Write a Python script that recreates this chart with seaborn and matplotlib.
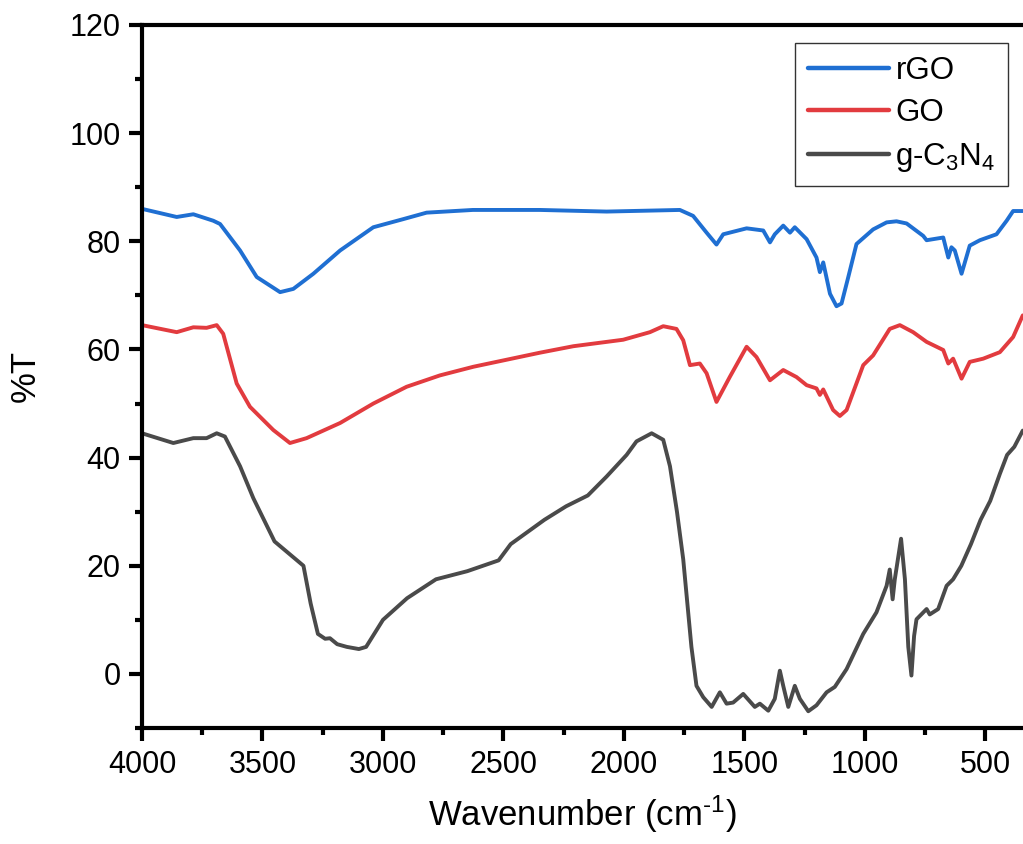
import numpy as np
import pandas as pd
import matplotlib
matplotlib.use("Agg")
import matplotlib.pyplot as plt
import seaborn as sns

# ---- data ----
wn_rgo = [4000, 3856, 3787, 3704, 3676, 3593, 3524, 3427, 3372, 3289,
          3178, 3040, 2916, 2819, 2627, 2349, 2072, 1768, 1713, 1657,
          1616, 1588, 1491, 1422, 1394, 1374, 1339, 1311, 1291, 1242,
          1201, 1187, 1173, 1145, 1118, 1097, 1069, 1035, 966, 910,
          869, 827, 758, 744, 675, 654, 641, 627, 599, 565,
          523, 454, 412, 385, 345]
t_rgo = [86.0, 84.5, 85.0, 83.8, 83.2, 78.3, 73.4, 70.6, 71.2, 74.0,
         78.3, 82.6, 84.1, 85.3, 85.8, 85.8, 85.5, 85.8, 84.7, 81.6,
         79.4, 81.3, 82.4, 82.0, 79.8, 81.3, 82.9, 81.6, 82.6, 80.4,
         77.0, 74.3, 76.1, 70.3, 68.0, 68.5, 73.4, 79.5, 82.2, 83.5,
         83.7, 83.3, 81.0, 80.2, 80.7, 77.0, 78.9, 78.3, 74.0, 79.2,
         80.2, 81.3, 83.8, 85.6, 85.6]

wn_go = [4000, 3856, 3787, 3732, 3690, 3663, 3607, 3552, 3455, 3386,
         3317, 3178, 3040, 2902, 2764, 2625, 2487, 2349, 2210, 2003,
         1892, 1837, 1782, 1754, 1726, 1685, 1657, 1616, 1561, 1491,
         1450, 1394, 1339, 1284, 1242, 1201, 1187, 1173, 1132, 1104,
         1076, 1007, 966, 897, 855, 800, 744, 675, 654, 634,
         599, 565, 509, 440, 385, 345]
t_go = [64.5, 63.2, 64.1, 64.0, 64.5, 62.9, 53.7, 49.4, 45.1, 42.7,
        43.6, 46.4, 50.0, 53.1, 55.2, 56.8, 58.1, 59.4, 60.6, 61.8,
        63.2, 64.3, 63.8, 61.7, 57.1, 57.4, 55.6, 50.3, 54.9, 60.5,
        58.6, 54.3, 56.2, 54.9, 53.4, 52.8, 51.6, 52.6, 48.8, 47.7,
        48.8, 57.1, 58.9, 63.8, 64.5, 63.2, 61.4, 59.9, 57.4, 58.3,
        54.6, 57.7, 58.3, 59.5, 62.3, 66.3]

wn_cn = [4000, 3870, 3787, 3732, 3690, 3656, 3593, 3538, 3450, 3370,
         3330, 3300, 3270, 3240, 3220, 3190, 3150, 3100, 3070, 3000,
         2900, 2780, 2650, 2520, 2470, 2330, 2240, 2150, 2072, 1989,
         1948, 1885, 1837, 1809, 1780, 1754, 1720, 1699, 1671, 1636,
         1602, 1574, 1547, 1505, 1457, 1436, 1401, 1374, 1353, 1339,
         1318, 1291, 1270, 1235, 1201, 1159, 1125, 1076, 1007, 952,
         910, 897, 885, 876, 850, 834, 820, 807, 796, 786,
         744, 731, 696, 661, 634, 600, 560, 520, 480, 440,
         410, 380, 345]
t_cn = [44.5, 42.7, 43.6, 43.6, 44.5, 43.9, 38.4, 32.5, 24.5, 21.5,
        20.0, 13.0, 7.4, 6.5, 6.6, 5.5, 5.0, 4.6, 5.0, 10.0,
        14.0, 17.5, 19.0, 21.0, 24.0, 28.5, 31.0, 33.0, 36.5, 40.5,
        43.0, 44.5, 43.3, 38.4, 30.0, 21.2, 5.0, -2.2, -4.3, -6.1,
        -3.4, -5.5, -5.3, -3.7, -6.1, -5.5, -6.8, -4.6, 0.6, -2.2,
        -6.1, -2.2, -4.6, -6.9, -5.8, -3.4, -2.4, 0.9, 7.4, 11.4,
        16.3, 19.3, 13.8, 17.5, 25.0, 17.5, 5.0, -0.3, 7.0, 10.1,
        12.0, 11.0, 12.0, 16.3, 17.5, 20.0, 24.0, 28.5, 32.0, 37.0,
        40.5, 42.0, 45.0]

labels = ["rGO", "GO", "g-C$_3$N$_4$"]
colors = ["#1F6FD2", "#E23B3F", "#4A4A4A"]
xticks = [4000, 3500, 3000, 2500, 2000, 1500, 1000, 500]
yticks = [0, 20, 40, 60, 80, 100, 120]

df = pd.concat([
    pd.DataFrame({"wn": wn_rgo, "T": t_rgo, "s": labels[0]}),
    pd.DataFrame({"wn": wn_go, "T": t_go, "s": labels[1]}),
    pd.DataFrame({"wn": wn_cn, "T": t_cn, "s": labels[2]}),
], ignore_index=True)

sns.set_style("ticks")
plt.rcParams["font.family"] = ["Liberation Sans", "DejaVu Sans"]
plt.rcParams["mathtext.default"] = "regular"
for k in ["text.color", "axes.labelcolor", "xtick.color", "ytick.color"]:
    plt.rcParams[k] = "black"

fig = plt.figure(figsize=(10.23, 8.44), dpi=100)
ax = fig.add_axes([142 / 1023, 116 / 844, 881 / 1023, 703 / 844])

sns.lineplot(data=df, x="wn", y="T", hue="s", hue_order=labels,
             palette=colors, linewidth=2.8, ax=ax, estimator=None, sort=True)

ax.set_xlim(4000, 344)
ax.set_ylim(-10, 120)
ax.set_xticks(xticks)
ax.set_yticks(yticks)
ax.xaxis.set_minor_locator(matplotlib.ticker.MultipleLocator(250))
ax.yaxis.set_minor_locator(matplotlib.ticker.MultipleLocator(10))

for side in ["left", "bottom", "top"]:
    ax.spines[side].set_linewidth(3.0)
    ax.spines[side].set_color("black")
ax.spines["right"].set_visible(False)

ax.tick_params(axis="both", which="major", direction="out", length=9.5,
               width=3.0, labelsize=22, pad=6, colors="black")
ax.tick_params(axis="both", which="minor", direction="out", length=5,
               width=3.0)
ax.tick_params(top=False, right=False, which="both")

ax.set_xlabel("Wavenumber (cm$^{\u2010 1}$)", fontsize=25, labelpad=10)
ax.set_ylabel("%T", fontsize=25, labelpad=20)

leg = ax.legend(loc="upper right", bbox_to_anchor=(0.983, 0.974),
                fontsize=22.5, frameon=True, fancybox=False, edgecolor="black",
                handlelength=2.6, labelspacing=0.4, borderpad=0.4,
                handletextpad=0.2, borderaxespad=0)
leg.get_frame().set_linewidth(1.0)
for line in leg.get_lines():
    line.set_linewidth(3.2)

fig.savefig("out.png", dpi=100)
